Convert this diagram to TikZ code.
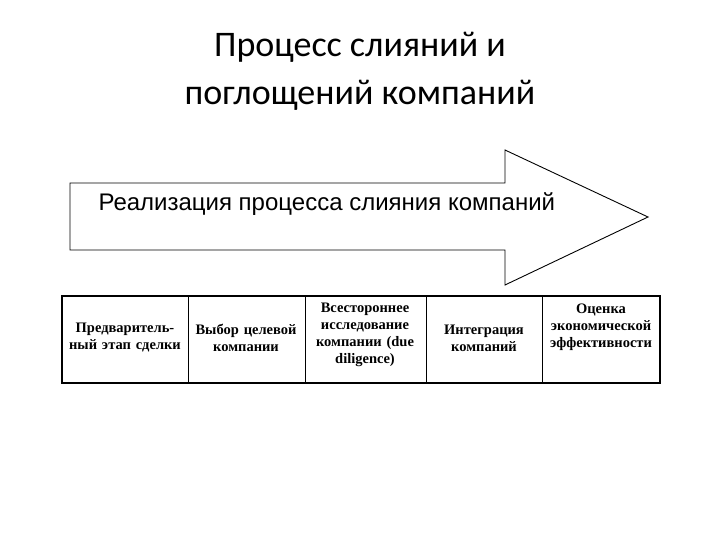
\documentclass[tikz,border=0pt]{standalone}
\usepackage{fontspec}
\setmainfont{Liberation Serif}
\newfontfamily\titlefont{Carlito}
\newfontfamily\arrowfont{Liberation Sans}
\begin{document}
\begin{tikzpicture}[x=1pt,y=-1pt,
  cell/.style={align=center,font=\bfseries\fontsize{14.5}{17}\selectfont,text width=118pt}]
\useasboundingbox (0,0) rectangle (720,540);
\node[font=\titlefont\fontsize{36}{48}\selectfont,align=center] (title) at (360,71) {Процесс слияний и\\поглощений компаний};
\draw[line width=0.9pt] (70,183) coordinate (a1) -- (505,183) -- (505,150) -- (648,217) coordinate (tip) -- (505,285) -- (505,250) -- (70,250) -- cycle;
\node[font=\arrowfont\fontsize{24}{28}\selectfont,anchor=west] (atext) at (95,204) {Реализация процесса слияния компаний};
\draw[line width=1.8pt] (62,296) rectangle (660,383);
\foreach \x in {188,305,426,542} \draw[line width=0.7pt] (\x,296) -- (\x,383);
\node[cell] (c1) at (125,338) {Предваритель-\\ный этап сделки};
\node[cell] (c2) at (246,338) {Выбор целевой\\компании};
\node[cell] (c3) at (365,335) {Всестороннее\\исследование\\компании (due\\diligence)};
\node[cell] (c4) at (484,338) {Интеграция\\компаний};
\node[cell] (c5) at (601,327) {Оценка\\экономической\\эффективности};
\end{tikzpicture}
\end{document}
